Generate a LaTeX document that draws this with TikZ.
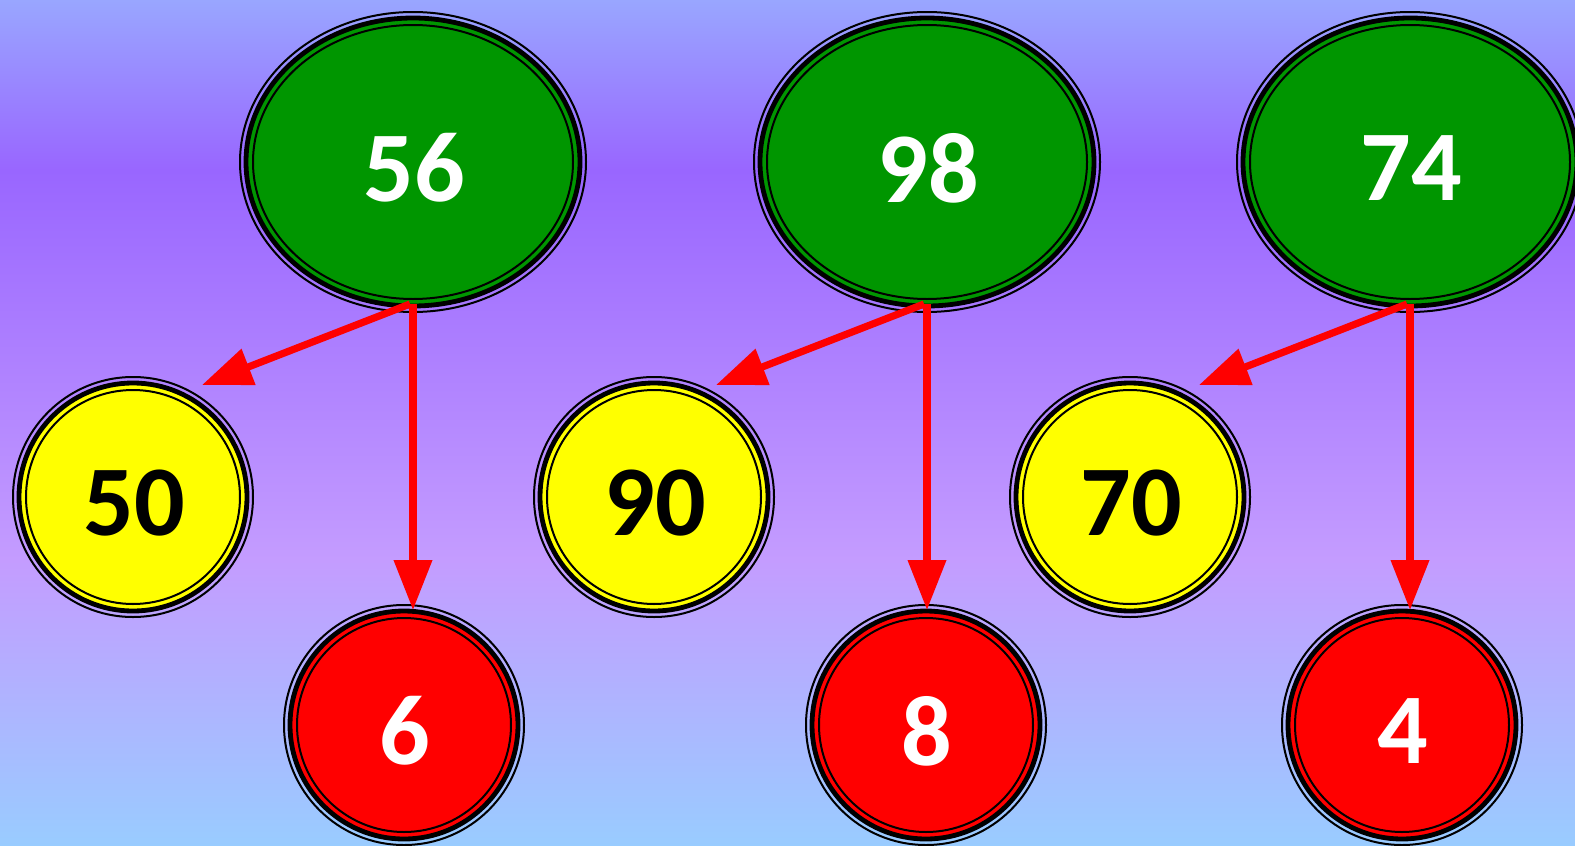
\documentclass[tikz,border=0pt]{standalone}
\usepackage{fontspec}
\newfontfamily\nodefont{Carlito}
\usetikzlibrary{arrows.meta,calc,shapes.geometric}
\definecolor{bgA}{HTML}{99A6FF}
\definecolor{bgB}{HTML}{9966FF}
\definecolor{bgC}{HTML}{C49CFF}
\definecolor{bgD}{HTML}{99CCFF}
\definecolor{nodegreen}{RGB}{0,150,0}
\definecolor{nodeyellow}{RGB}{255,255,0}
\definecolor{nodered}{RGB}{255,0,0}
\tikzset{
  outerring/.style={ellipse, draw=black, line width=1pt, inner sep=0pt, outer sep=0pt},
  arr/.style={draw=nodered, line width=3.6pt, -{Triangle[length=25pt,width=18.5pt]}},
  numtext/.style={font=\nodefont\bfseries\fontsize{50}{60}\selectfont, inner sep=0pt},
}
% #1 name, #2 x, #3 y, #4 rx(px), #5 ry(px), #6 fill, #7 text colour, #8 text
\newcommand{\ringnode}[8]{%
  \node[outerring, minimum width=#4pt, minimum height=#5pt] (#1) at (#2,#3) {};
  \fill[#6] (#1.center) ellipse [x radius={(#4-6)*0.5pt}, y radius={(#5-6)*0.5pt}];
  \draw[line width=2.4pt] (#1.center) ellipse [x radius={(#4-6)*0.5pt}, y radius={(#5-6)*0.5pt}];
  \draw[line width=1pt] (#1.center) ellipse [x radius={(#4-13)*0.5pt}, y radius={(#5-13)*0.5pt}];
  \node[numtext, text=#7] (l#1) at ($(#1.center)+(1,6)$) {#8};
}
\begin{document}
\begin{tikzpicture}[x=0.5pt,y=-0.5pt]
\useasboundingbox (0,0) rectangle (1575,846);
\clip (0,0) rectangle (1575,846);
\shade[top color=bgA,bottom color=bgB] (0,0) rectangle (1575,170);
\shade[top color=bgB,bottom color=bgC] (0,169.5) rectangle (1575,560);
\shade[top color=bgC,bottom color=bgD] (0,559.5) rectangle (1575,846);

\ringnode{p56}{413}{162}{173}{150}{nodegreen}{white}{56}
\ringnode{p98}{927}{162}{173}{150}{nodegreen}{white}{98}
\ringnode{p74}{1410}{162}{173}{150}{nodegreen}{white}{74}

\ringnode{n50}{133}{497}{120}{120}{nodeyellow}{black}{50}
\ringnode{n90}{654}{497}{120}{120}{nodeyellow}{black}{90}
\ringnode{n70}{1130}{497}{120}{120}{nodeyellow}{black}{70}

\ringnode{n6}{404}{725}{120}{120}{nodered}{white}{6}
\ringnode{n8}{926}{725}{120}{120}{nodered}{white}{8}
\ringnode{n4}{1402}{725}{120}{120}{nodered}{white}{4}

\foreach \p/\l/\r in {p56/n50/n6, p98/n90/n8, p74/n70/n4}{
  \coordinate (sd\p) at ($(\p.center)+(-3,142)$);
  \coordinate (td\p) at ($(\p.center)+(-211,223)$);
  \coordinate (sv\p) at ($(\p.center)+(0,142)$);
  \draw[arr] (sd\p) -- (td\p);
  \draw[arr, shorten >=-2.5pt] (sv\p) -- (sv\p |- \r.north);
}
\end{tikzpicture}
\end{document}
